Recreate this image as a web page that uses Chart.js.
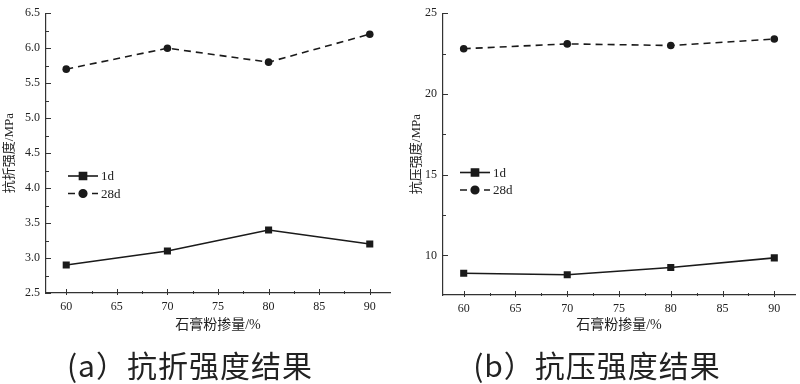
<!DOCTYPE html>
<html>
<head>
<meta charset="utf-8">
<script src="https://cdn.jsdelivr.net/npm/chart.js@4.4.1/dist/chart.umd.min.js"></script>
<style>
  html, body { margin:0; padding:0; background:#fff; }
  #wrap { position:relative; width:800px; height:384px; overflow:hidden; }
  .pane { position:absolute; top:0; width:400px; height:384px; }
  .cap { position:absolute; top:349px; font-family:"Noto Sans CJK SC","Noto Sans",sans-serif; font-size:30px; line-height:30px; color:#222; letter-spacing:1px; white-space:nowrap; transform:translateX(-50%); }
</style>
</head>
<body>
<div id="wrap">
  <div class="pane" style="left:0"><canvas id="c1" width="400" height="384"></canvas></div>
  <div class="pane" style="left:400px"><canvas id="c2" width="400" height="384"></canvas></div>
  <div class="cap" style="left:190px">(a）抗折强度结果</div>
  <div class="cap" style="left:597px">(b）抗压强度结果</div>
</div>
<script>
// ---- data ----
const dosage = [60, 70, 80, 90];            // 石膏粉掺量 / %
const flexural1d = [2.9, 3.1, 3.4, 3.2];     // 抗折强度 1d / MPa
const flexural28d = [5.7, 6.0, 5.8, 6.2];    // 抗折强度 28d / MPa
const compressive1d = [8.9, 8.8, 9.25, 9.85];   // 抗压强度 1d / MPa
const compressive28d = [22.8, 23.1, 23.0, 23.4]; // 抗压强度 28d / MPa
const xTicks = [60, 65, 70, 75, 80, 85, 90];
const xMinor = [62.5, 67.5, 72.5, 77.5, 82.5, 87.5];
const yTicksA = [2.5, 3.0, 3.5, 4.0, 4.5, 5.0, 5.5, 6.0, 6.5];
const yMinorA = [2.75, 3.25, 3.75, 4.25, 4.75, 5.25, 5.75, 6.25];
const yTicksB = [10, 15, 20, 25];
const yMinorB = [12.5, 17.5, 22.5];
const seriesNames = ['1d', '28d'];

const INK = '#1a1a1a';
const AXIS = '#333';
const serif = '"Liberation Serif","Noto Sans CJK SC",serif';

const tickPlugin = {
  id: 'minorTicks',
  afterDraw(chart, args, opts) {
    const ctx = chart.ctx, xs = chart.scales.x, ys = chart.scales.y, a = chart.chartArea;
    ctx.save();
    ctx.strokeStyle = AXIS; ctx.lineWidth = 1;
    ctx.beginPath();
    ys.ticks.forEach(t => { const p = Math.round(ys.getPixelForValue(t.value)) + 0.5; ctx.moveTo(a.left, p); ctx.lineTo(a.left + 5, p); });
    opts.yMinor.forEach(v => { const p = Math.round(ys.getPixelForValue(v)) + 0.5; ctx.moveTo(a.left, p); ctx.lineTo(a.left + 3, p); });
    xs.ticks.forEach(t => { const p = Math.round(xs.getPixelForValue(t.value)) + 0.5; ctx.moveTo(p, a.bottom - 4); ctx.lineTo(p, a.bottom + 2); });
    opts.xMinor.forEach(v => { const p = Math.round(xs.getPixelForValue(v)) + 0.5; ctx.moveTo(p, a.bottom - 2); ctx.lineTo(p, a.bottom + 1); });
    ctx.stroke();
    // legend
    const lx = opts.legendX, ly = opts.legendY, gap = 17.5;
    chart.data.datasets.forEach((ds, i) => {
      const y = ly + i * gap;
      ctx.strokeStyle = ds.borderColor; ctx.lineWidth = ds.borderWidth;
      ctx.setLineDash(ds.borderDash || []);
      ctx.beginPath(); ctx.moveTo(lx, y); ctx.lineTo(lx + 30, y); ctx.stroke();
      ctx.setLineDash([]);
      Chart.helpers.drawPoint(ctx, { pointStyle: ds.pointStyle, radius: ds.pointRadius, borderWidth: 1 }, lx + 15, y);
      ctx.fillStyle = ds.pointBackgroundColor;
      ctx.fill();
      ctx.fillStyle = '#222';
      ctx.font = '13px ' + serif;
      ctx.textBaseline = 'middle'; ctx.textAlign = 'left';
      ctx.fillText(ds.label, lx + 33, y + 1);
    });
    ctx.restore();
  }
};

function makeChart(id, s1, s2, yMin, yMax, yTicks, yMinor, yDec, yTitle, geo) {
  const mk = (vals) => dosage.map((x, i) => ({ x, y: vals[i] }));
  return new Chart(document.getElementById(id), {
    type: 'line',
    data: {
      datasets: [
        { label: seriesNames[0], data: mk(s1), borderColor: INK, backgroundColor: INK, pointBackgroundColor: INK, pointBorderColor: INK,
          borderWidth: 1.6, pointStyle: 'rect', pointRadius: 5, pointBorderWidth: 0, tension: 0 },
        { label: seriesNames[1], data: mk(s2), borderColor: INK, backgroundColor: INK, pointBackgroundColor: INK, pointBorderColor: INK,
          borderWidth: 1.6, borderDash: [7, 5], pointStyle: 'circle', pointRadius: 3.8, pointBorderWidth: 0, tension: 0 }
      ]
    },
    options: {
      responsive: false, animation: false, devicePixelRatio: 1,
      layout: { padding: { left: 0, top: geo.top, right: geo.right, bottom: 0 } },
      plugins: {
        legend: { display: false }, tooltip: { enabled: false },
        minorTicks: { xMinor, yMinor, legendX: geo.legX, legendY: geo.legY }
      },
      scales: {
        x: {
          type: 'linear', min: 58, max: 92,
          afterFit: s => { s.height = geo.xh; },
          afterBuildTicks: s => { s.ticks = xTicks.map(v => ({ value: v })); },
          grid: { drawOnChartArea: false, drawTicks: false },
          border: { color: AXIS, width: 1.2 },
          ticks: { padding: 7, color: '#222', font: { family: serif, size: 12 }, callback: v => String(v) },
          title: { display: true, text: '石膏粉掺量/%', color: '#222', font: { family: serif, size: 14 }, padding: { top: 0, bottom: 50 } }
        },
        y: {
          type: 'linear', min: yMin, max: yMax,
          afterFit: s => { s.width = geo.yw; },
          afterBuildTicks: s => { s.ticks = yTicks.map(v => ({ value: v })); },
          grid: { drawOnChartArea: false, drawTicks: false },
          border: { color: AXIS, width: 1.2 },
          ticks: { padding: 6, color: '#222', font: { family: serif, size: 12 }, callback: v => Number(v).toFixed(yDec) },
          title: { display: true, text: yTitle, color: '#222', font: { family: serif, size: 13 }, padding: { top: geo.ytp, bottom: 0 } }
        }
      }
    },
    plugins: [tickPlugin]
  });
}

makeChart('c1', flexural1d, flexural28d, 2.5, 6.5, yTicksA, yMinorA, 1, '抗折强度/MPa',
  { top: 10, right: 10, xh: 91, yw: 46, ytp: 2, legX: 68, legY: 176 });
makeChart('c2', compressive1d, compressive28d, 7.55, 25, yTicksB, yMinorB, 0, '抗压强度/MPa',
  { top: 10, right: 5, xh: 89, yw: 43, ytp: 9, legX: 60, legY: 172.5 });
</script>
</body>
</html>
